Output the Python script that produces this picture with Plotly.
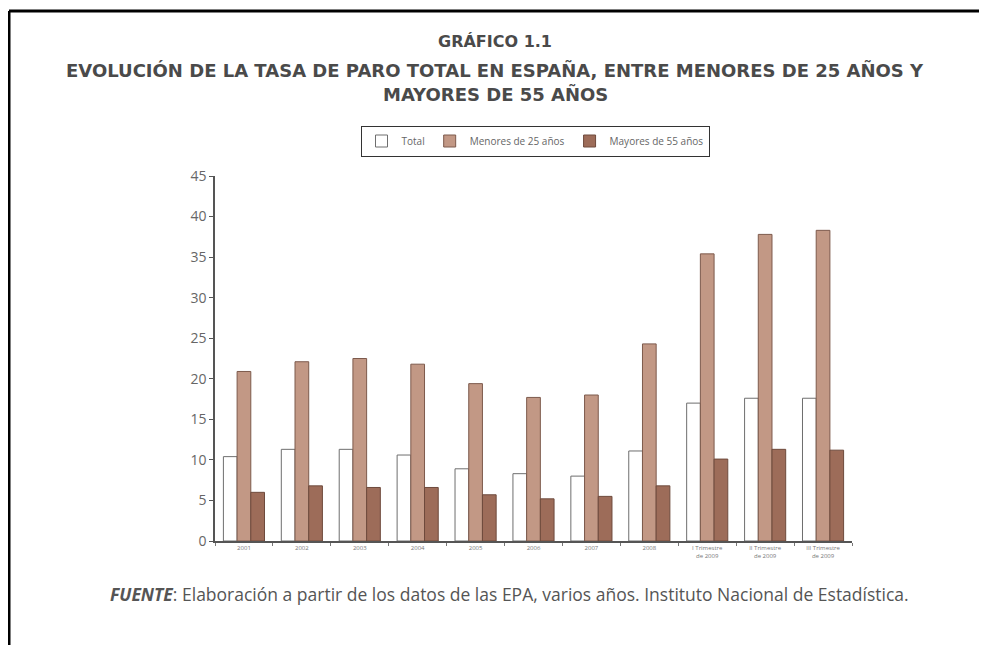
import plotly.graph_objects as go

categories = ["2001", "2002", "2003", "2004", "2005", "2006", "2007", "2008",
              "I Trimestre<br>de 2009", "II Trimestre<br>de 2009", "III Trimestre<br>de 2009"]
total = [10.4, 11.3, 11.3, 10.6, 8.9, 8.3, 8.0, 11.1, 17.0, 17.6, 17.6]
menores_25 = [20.9, 22.1, 22.5, 21.8, 19.4, 17.7, 18.0, 24.3, 35.4, 37.8, 38.3]
mayores_55 = [6.0, 6.8, 6.6, 6.6, 5.7, 5.2, 5.5, 6.8, 10.1, 11.3, 11.2]
y_ticks = [0, 5, 10, 15, 20, 25, 30, 35, 40, 45]

OFF = 8  # page body margin
W, H = 987 - OFF, 645 - OFF
L, R, T, B = 215, 852, 176, 541


def px(x):
    return (x - L) / (R - L)


def py(y):
    return (B - y) / (B - T)


fig = go.Figure()
fig.add_trace(go.Bar(x=categories, y=total, name="Total",
                     marker=dict(color="#ffffff", line=dict(color="#6e6e6e", width=1))))
fig.add_trace(go.Bar(x=categories, y=menores_25, name="Menores de 25 años",
                     marker=dict(color="#c29885", line=dict(color="#7d5a4c", width=1))))
fig.add_trace(go.Bar(x=categories, y=mayores_55, name="Mayores de 55 años",
                     marker=dict(color="#9d6c59", line=dict(color="#6e4a3c", width=1))))

grey = "#555555"
fig.update_layout(
    width=W, height=H,
    margin=dict(l=L - OFF, r=987 - R, t=T - OFF, b=645 - B, autoexpand=False),
    paper_bgcolor="white", plot_bgcolor="white",
    barmode="group", bargap=0.29, bargroupgap=0,
    font=dict(family="Open Sans", color=grey),
    showlegend=True,
    legend=dict(orientation="h", x=px(535), y=py(141), xanchor="center", yanchor="middle",
                bordercolor="#333333", borderwidth=1, bgcolor="white",
                font=dict(size=10, color="#666666"), itemwidth=30,
                tracegroupgap=0),
    xaxis=dict(showline=True, linecolor="#555555", linewidth=1.5,
               ticks="outside", tickson="boundaries", ticklen=3, tickcolor="#777777",
               tickfont=dict(size=6, color="#777777"), showgrid=False),
    yaxis=dict(range=[0, 45], tickvals=y_ticks, showline=True, linecolor="#555555",
               linewidth=1.5, ticks="outside", ticklen=4, tickcolor="#555555",
               tickfont=dict(size=14, color="#666666"), showgrid=False, zeroline=False),
)

title_font = dict(family="DejaVu Sans", size=18, color="#4a4a4a")
fig.add_annotation(text="<b>GRÁFICO 1.1</b>", x=px(495), y=py(42), xref="paper", yref="paper",
                   showarrow=False, font=dict(family="DejaVu Sans", size=16, color="#4a4a4a"),
                   xanchor="center", yanchor="middle")
fig.add_annotation(text="<b>EVOLUCIÓN DE LA TASA DE PARO TOTAL EN ESPAÑA, ENTRE MENORES DE 25 AÑOS Y</b>",
                   x=px(495), y=py(70), xref="paper", yref="paper",
                   showarrow=False, font=title_font, xanchor="center", yanchor="middle")
fig.add_annotation(text="<b>MAYORES DE 55 AÑOS</b>", x=px(495), y=py(94), xref="paper", yref="paper",
                   showarrow=False, font=title_font, xanchor="center", yanchor="middle")
fig.add_annotation(text="<b><i>FUENTE</i></b>: Elaboración a partir de los datos de las EPA, varios años. Instituto Nacional de Estadística.",
                   x=px(108), y=py(594), xref="paper", yref="paper",
                   showarrow=False, font=dict(family="Open Sans", size=17.5, color="#555555"),
                   xanchor="left", yanchor="middle")

# page frame
fig.add_shape(type="line", xref="paper", yref="paper", x0=px(9), x1=px(9), y0=py(11), y1=py(660),
              line=dict(color="black", width=3))
fig.add_shape(type="line", xref="paper", yref="paper", x0=px(9), x1=px(1000), y0=py(11), y1=py(11),
              line=dict(color="black", width=3))

fig.write_html("out.html")
